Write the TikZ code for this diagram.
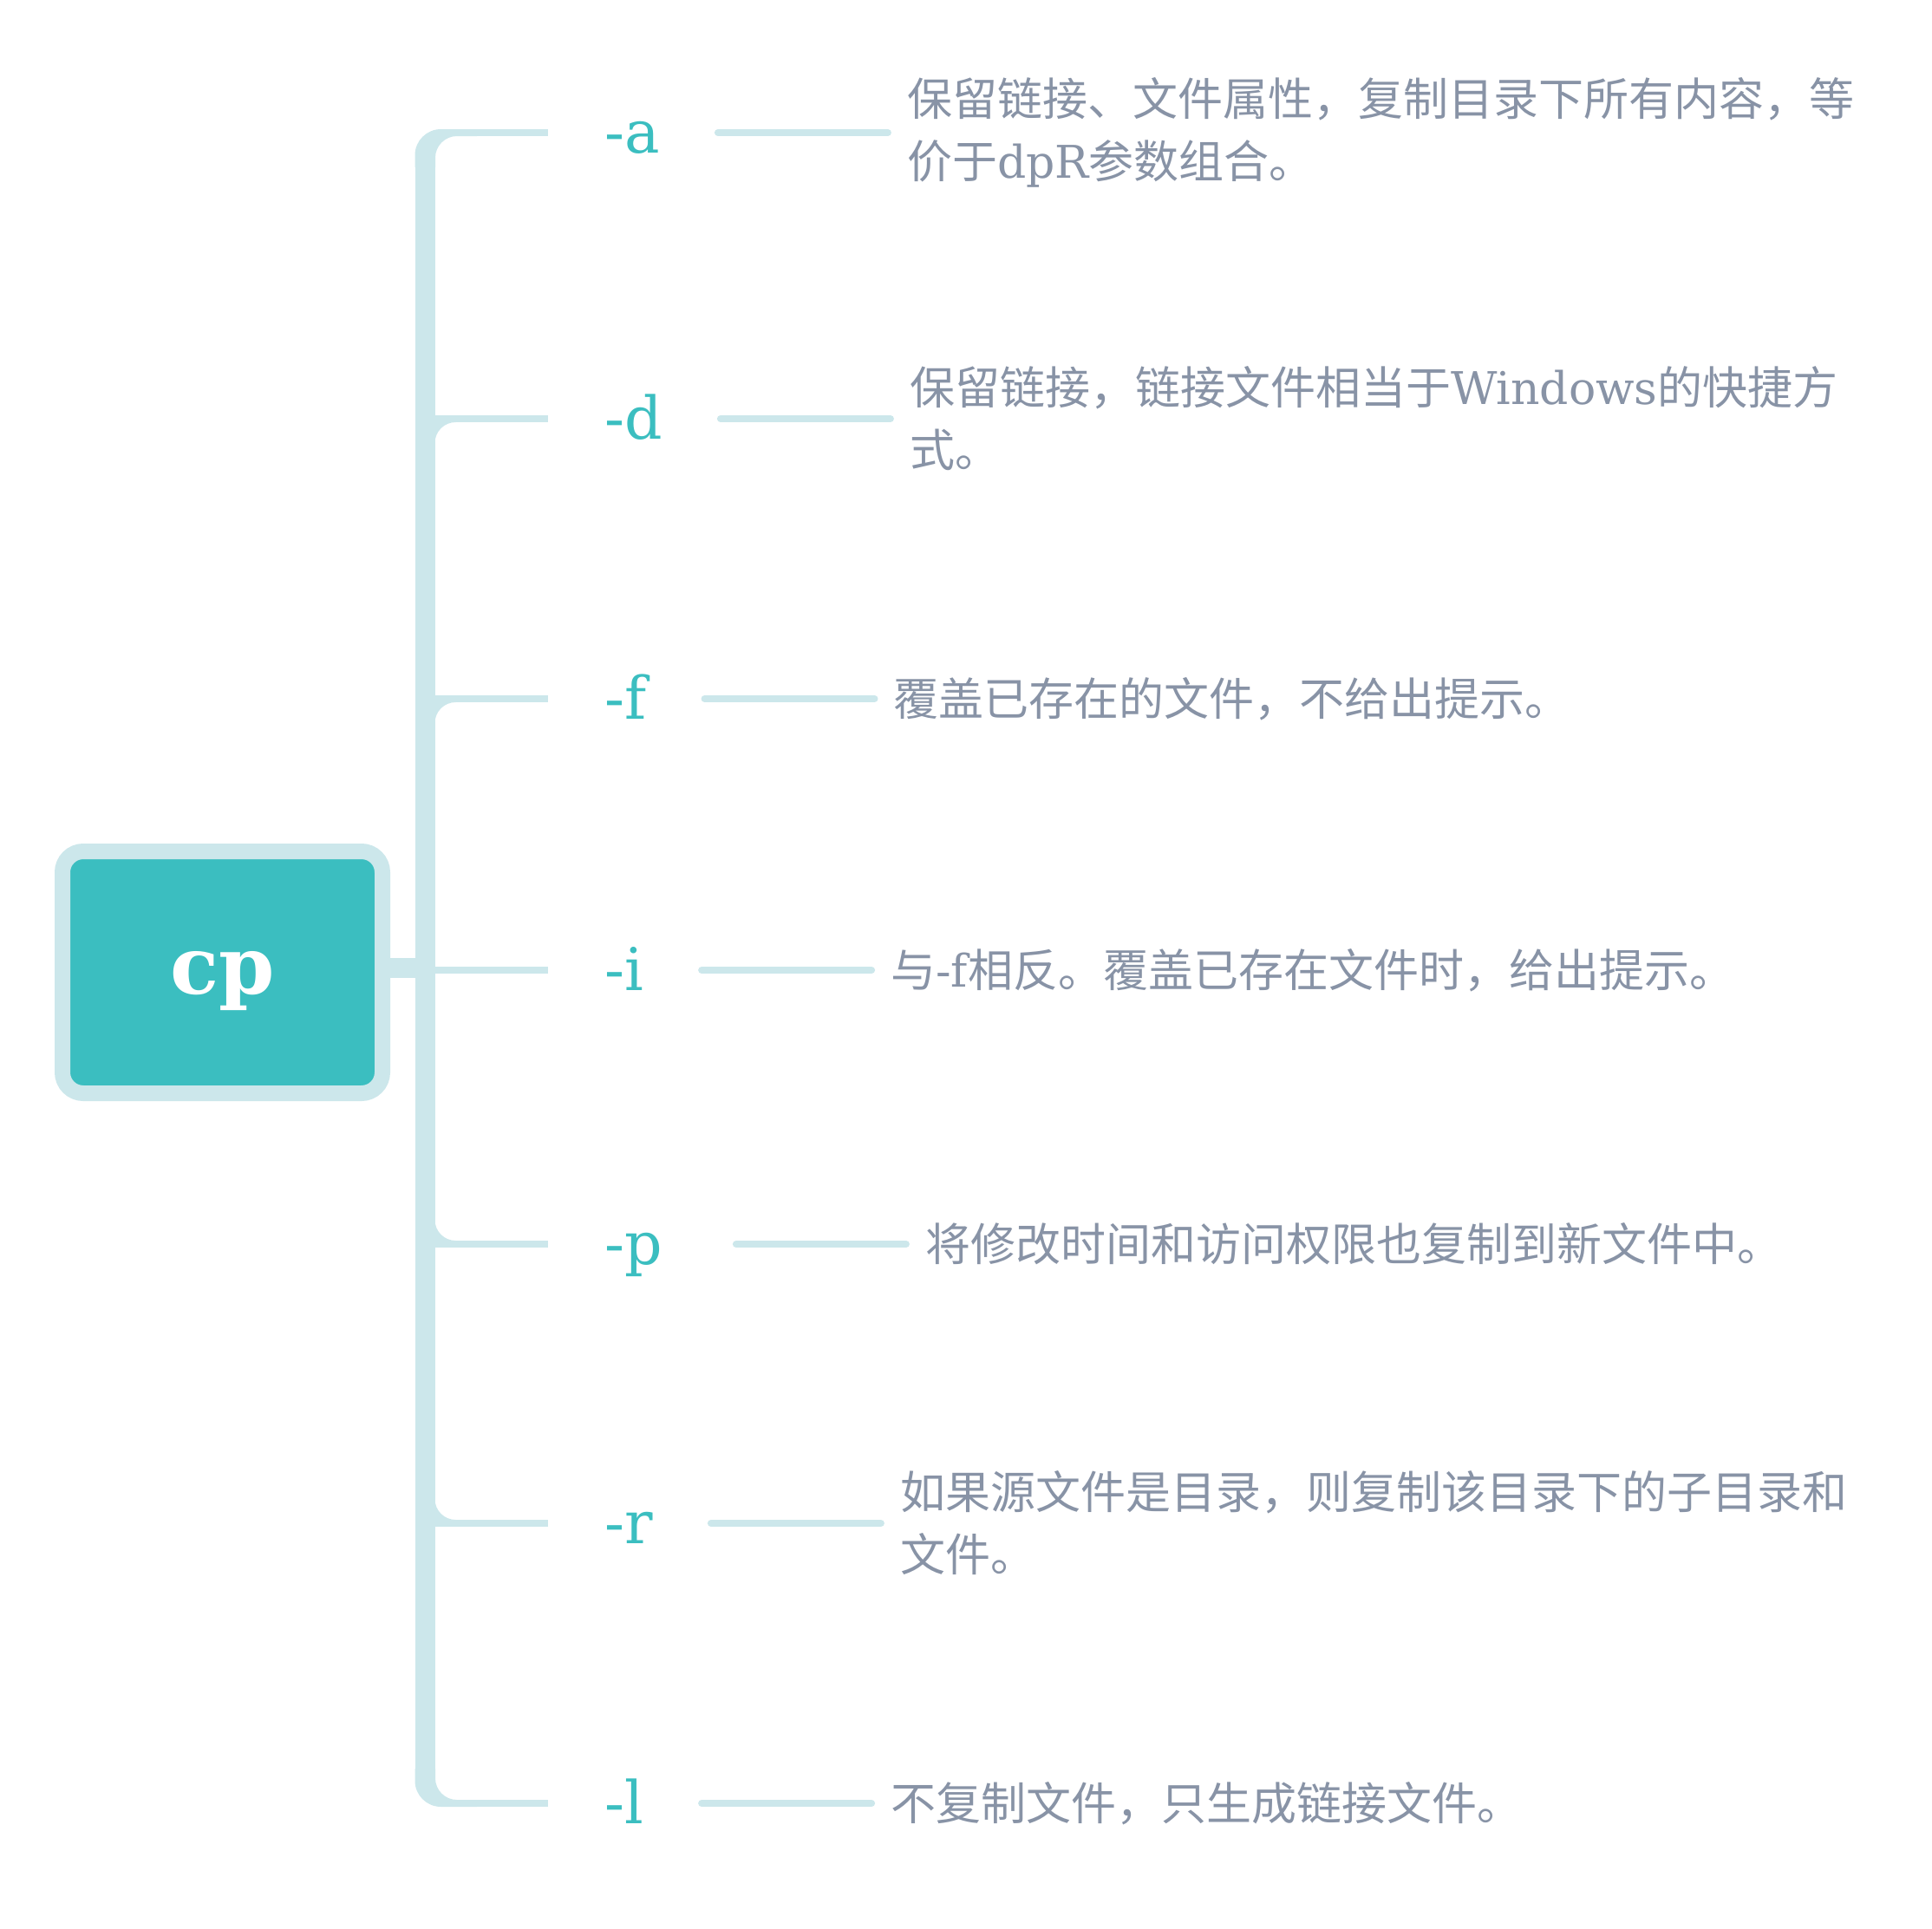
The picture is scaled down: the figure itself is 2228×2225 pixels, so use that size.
\documentclass[tikz,border=0pt]{standalone}
\usepackage{fontspec}
\setmainfont{Noto Sans CJK SC}
\newfontfamily\serif{DejaVu Serif}
\usetikzlibrary{positioning,calc}

\definecolor{cpteal}{HTML}{3BBEC0}
\definecolor{cpline}{HTML}{CCE7EB}
\definecolor{cptext}{HTML}{8893A6}
\newcommand\lat[1]{{\serif #1}}

\begin{document}
\begin{tikzpicture}[x=1pt, y=-1pt,
  root/.style={draw=cpline, line width=18pt, fill=cpteal, rounded corners=24pt,
    minimum width=369pt, minimum height=279pt, inner sep=0pt, text depth=0pt,
    text=white, font=\serif\bfseries\fontsize{92}{92}\selectfont},
  trunk/.style={draw=cpline, line width=23pt},
  branch/.style={draw=cpline, line width=8pt},
  twig/.style={draw=cpline, line width=8pt, line cap=round},
  flag/.style={anchor=base west, inner sep=0pt, text=cpteal,
    font=\serif\fontsize{68}{68}\selectfont},
  desc/.style={inner sep=0pt, text=cptext, align=left,
    font=\fontsize{52}{72}\selectfont},
]
  \useasboundingbox (0,0) rectangle (2228,2225);

  \node[root] (cp) at (256.5,1121.5) {cp};
  \coordinate (trunk) at (490,1116);
  \draw[trunk] (cp.east|-trunk) -- (trunk);

  % options
  \foreach \k/\y/\g/\txt in {
    a/153/67/{保留链接、文件属性，复制目录下所有内容，等\\价于\lat{dpR}参数组合。},
    d/483/67/{保留链接，链接文件相当于\lat{Windows}的快捷方\\式。},
    f/806/67/{覆盖已存在的文件，不给出提示。},
    i/1119/67/{与\lat{-f}相反。覆盖已存在文件时，给出提示。},
    p/1435/85/{将修改时间和访问权限也复制到新文件中。},
    r/1757/67/{如果源文件是目录，则复制该目录下的子目录和\\文件。},
    l/2080/67/{不复制文件，只生成链接文件。}
  }{
    \coordinate (\k0) at (632,\y);
    \node[flag] (f\k) at ($(\k0)+(65,23)$) {-\k};
    \coordinate (\k1) at ($(\k0 -| f\k.east)+(\g,0)$);
    \coordinate[right=196pt of \k1] (\k2);
    \node[desc, right=22pt of \k2] (t\k) {\txt};
    \draw[twig] (\k1) -- (\k2);
  }

  % trunk
  \draw[trunk] ($(trunk|-a0)+(0,39)$) -- ($(trunk|-l0)+(0,-39)$);
  \foreach \k/\s in {a/55,d/0,f/0,i/0,p/0,r/0,l/55}
    \draw[branch] ($(trunk|-\k0)+(\s,0)$) -- (\k0);

  % bent ends of the trunk
  \foreach \k/\s in {a/1,l/-1}
    \fill[cpline] ($(trunk|-\k0)+(-11.5,26*\s)$)
      arc[start angle=180, end angle=180+90*\s, radius=30]
      -- ($(trunk|-\k0)+(60,-4*\s)$) -- ++(0,8*\s)
      -- ($(trunk|-\k0)+(37,4*\s)$)
      arc[start angle=180+90*\s, end angle=180, radius=25]
      -- ($(trunk|-\k0)+(12,40*\s)$) -- ($(trunk|-\k0)+(-11.5,40*\s)$) -- cycle;

  % fillets where the middle branches leave the trunk
  \foreach \k/\s in {d/1,f/1,p/-1,r/-1}
    \fill[cpline] ($(trunk|-\k0)+(11.5,4*\s)$) -- ++(0,24*\s)
      arc[start angle=180, end angle=180+90*\s, radius=24] -- cycle;
\end{tikzpicture}
\end{document}
